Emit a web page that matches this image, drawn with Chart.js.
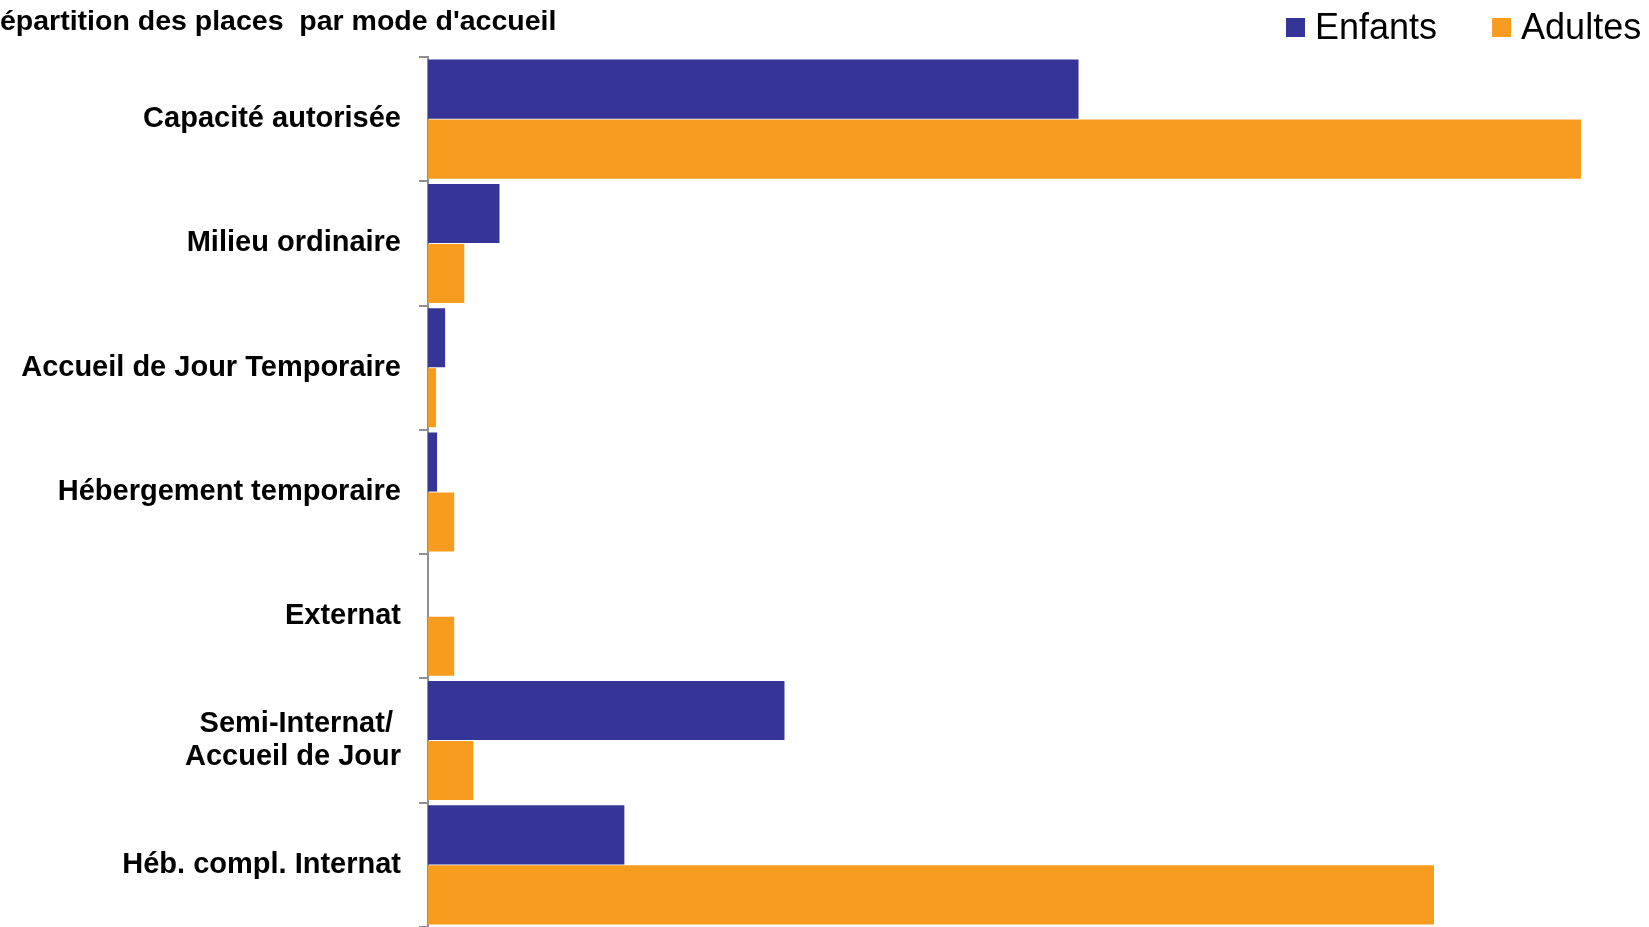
<!DOCTYPE html>
<html lang="fr">
<head>
<meta charset="utf-8">
<title>Répartition des places par mode d'accueil</title>
<script src="https://cdn.jsdelivr.net/npm/chart.js@4.4.1/dist/chart.umd.min.js"></script>
<style>
  html, body { margin: 0; padding: 0; background: #fff; overflow: hidden; }
</style>
</head>
<body>
<canvas id="placesChart" width="1649" height="927"></canvas>
<script>
// Data (no axis values shown, so units are estimated places)
const titleText = "Répartition des places  par mode d'accueil";
const categories = [
    'Capacité autorisée',
    'Milieu ordinaire',
    'Accueil de Jour Temporaire',
    'Hébergement temporaire',
    'Externat',
    ['Semi-Internat/ ', 'Accueil de Jour'],
    'Héb. compl. Internat'
];
const seriesNames = ['Enfants', 'Adultes'];
const enfants = [1292, 142, 34, 18, 0, 708, 390];
const adultes = [2290, 72, 16, 52, 52, 90, 1998];
const xMax = 2425;

const FONT = '"Liberation Sans", Arial, sans-serif';
const BLUE = '#353598';
const ORANGE = '#f89c20';
const AXIS_GREY = '#8f8f8f';

// Title (cut at the left edge like the source) and legend in the top band
const headerPlugin = {
    id: 'header',
    afterDraw(chart) {
        const ctx = chart.ctx;
        ctx.save();
        ctx.fillStyle = '#000';
        ctx.textBaseline = 'alphabetic';
        ctx.font = 'bold 28.5px ' + FONT;
        ctx.fillText(titleText, -20.6, 30);

        ctx.font = '36px ' + FONT;
        let x = 1286;
        chart.data.datasets.forEach(ds => {
            ctx.fillStyle = ds.backgroundColor;
            ctx.fillRect(x, 18, 19, 19);
            ctx.fillStyle = '#000';
            ctx.fillText(ds.label, x + 29, 39);
            x += 29 + ctx.measureText(ds.label).width + 55;
        });
        ctx.restore();
    }
};

const ctx = document.getElementById('placesChart').getContext('2d');
new Chart(ctx, {
    type: 'bar',
    data: {
        labels: categories,
        datasets: [
            { label: seriesNames[0], data: enfants, backgroundColor: BLUE },
            { label: seriesNames[1], data: adultes, backgroundColor: ORANGE }
        ]
    },
    options: {
        indexAxis: 'y',
        responsive: false,
        animation: false,
        datasets: {
            bar: { categoryPercentage: 0.965, barPercentage: 0.985 }
        },
        layout: { padding: { top: 57, left: 0, right: 0, bottom: -5 } },
        plugins: {
            legend: { display: false },
            title: { display: false },
            tooltip: { enabled: false }
        },
        scales: {
            x: { display: false, min: 0, max: xMax },
            y: {
                afterFit: (scale) => {
                    scale.width = 428;
                    // labels sit in the middle of their band, no need for edge room
                    scale.paddingTop = 0;
                    scale.paddingBottom = 0;
                },
                grid: {
                    display: true,
                    drawOnChartArea: false,
                    drawTicks: true,
                    tickLength: 9,
                    offset: true,
                    color: AXIS_GREY,
                    lineWidth: 2
                },
                border: { display: true, color: AXIS_GREY, width: 2 },
                ticks: {
                    autoSkip: false,
                    color: '#000',
                    padding: 18,
                    font: { family: FONT, size: 29, weight: 'bold', lineHeight: 1.15 }
                }
            }
        }
    },
    plugins: [headerPlugin]
});
</script>
</body>
</html>
